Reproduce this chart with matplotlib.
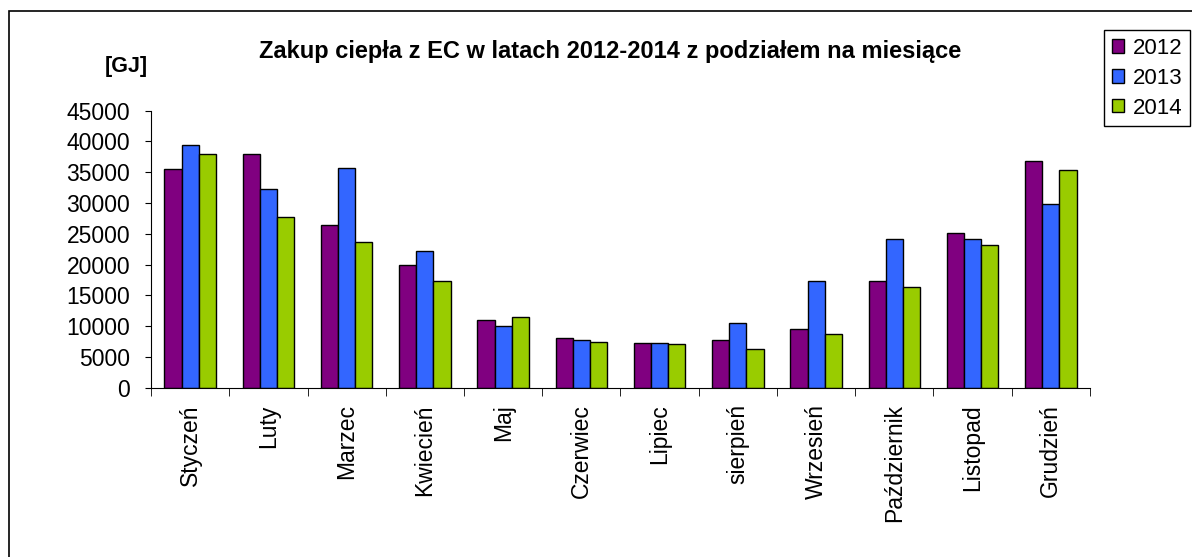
import matplotlib
matplotlib.use("Agg")
import matplotlib.pyplot as plt
import numpy as np
from matplotlib.patches import Rectangle

plt.rcParams["font.family"] = ["Liberation Sans", "DejaVu Sans"]

months = ["Styczeń", "Luty", "Marzec", "Kwiecień", "Maj", "Czerwiec",
          "Lipiec", "sierpień", "Wrzesień", "Październik", "Listopad", "Grudzień"]
years = ["2012", "2013", "2014"]
v2012 = [35500, 38000, 26400, 20000, 11000, 8000, 7300, 7800, 9500, 17300, 25200, 36900]
v2013 = [39400, 32300, 35700, 22200, 10000, 7800, 7300, 10500, 17300, 24200, 24200, 29800]
v2014 = [38000, 27700, 23700, 17300, 11500, 7500, 7050, 6300, 8700, 16400, 23200, 35300]
colors = ["#800080", "#3366FF", "#99CC00"]

fig = plt.figure(figsize=(11.92, 5.57), dpi=100)
ax = fig.add_axes([0.1267, 0.304, 0.9144 - 0.1267, 0.8013 - 0.304])

x = np.arange(len(months))
w = 0.22
for i, (vals, col, lab) in enumerate(zip([v2012, v2013, v2014], colors, years)):
    ax.bar(x + (i - 1) * w, vals, width=w, color=col, edgecolor="black",
           linewidth=1.0, label=lab)

ax.set_xlim(-0.5, len(months) - 0.5)
ax.set_ylim(0, 45000)
ax.set_yticks(np.arange(0, 45001, 5000))
ax.tick_params(axis="y", labelsize=16.5, length=4, direction="out", pad=11)
ax.set_xticks(x)
ax.set_xticklabels(months, rotation=90, fontsize=16.5)
ax.tick_params(axis="x", which="major", length=0, pad=12)
ax.set_xticks(np.arange(-0.5, len(months), 1), minor=True)
ax.tick_params(axis="x", which="minor", length=6, direction="out")
for s in ["top", "right"]:
    ax.spines[s].set_visible(False)

fig.text(0.512, 0.908, "Zakup ciepła z EC w latach 2012-2014 z podziałem na miesiące",
         ha="center", va="center", fontsize=17, fontweight="bold")
fig.text(0.106, 0.88, "[GJ]", ha="center", va="center", fontsize=15.5, fontweight="bold")

leg = fig.legend(loc="upper right", bbox_to_anchor=(0.9985, 0.946), fontsize=16,
                 frameon=True, fancybox=False, edgecolor="black", framealpha=1,
                 handlelength=0.55, handleheight=0.55, handletextpad=0.4,
                 labelspacing=0.4, borderpad=0.35, borderaxespad=0)
leg.get_frame().set_linewidth(1.0)

fig.add_artist(Rectangle((9 / 1192, -0.05), 1.2, 1 - 11 / 557 + 0.05,
                         transform=fig.transFigure, fill=False,
                         edgecolor="black", linewidth=1.2))

fig.savefig("out.png", dpi=100)
